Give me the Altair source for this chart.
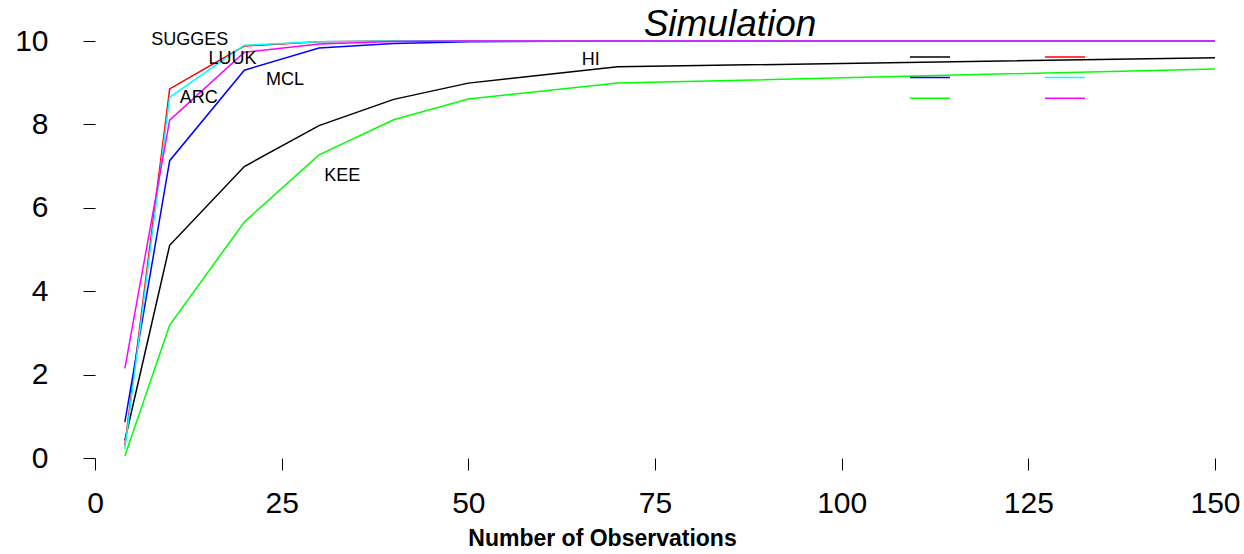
import altair as alt
import pandas as pd

# Data
obs = [4, 10, 20, 30, 40, 50, 70, 150]
series_names = ["HI", "SUGGES", "MCL", "LUUK", "KEE", "ARC"]
series_colors = ["#000000", "#FF0000", "#0000FF", "#00FFFF", "#00FF00", "#FF00FF"]
hi = [0.42, 5.10, 6.99, 7.97, 8.60, 8.99, 9.38, 9.60]
sugges = [0.30, 8.85, 9.88, 9.98, 10.0, 10.0, 10.0, 10.0]
mcl = [0.86, 7.13, 9.30, 9.83, 9.94, 9.98, 10.0, 10.0]
luuk = [0.22, 8.65, 9.90, 9.98, 10.0, 10.0, 10.0, 10.0]
kee = [0.05, 3.19, 5.66, 7.27, 8.11, 8.61, 8.99, 9.33]
arc = [2.15, 8.10, 9.73, 9.93, 9.99, 10.0, 10.0, 10.0]

# legend fills column by column: col 1 = HI, MCL, KEE ; col 2 = SUGGES, LUUK, ARC
legend_order = ["HI", "MCL", "KEE", "SUGGES", "LUUK", "ARC"]

label_text = ["SUGGES", "LUUK", "ARC", "MCL", "KEE", "HI"]
label_x = [12.7, 18.4, 13.9, 25.45, 33.1, 66.4]
label_y = [10.02, 9.58, 8.63, 9.07, 6.77, 9.55]

title_text = ["Simulation"]

x_ticks = [0, 25, 50, 75, 100, 125, 150]
y_ticks = [0, 2, 4, 6, 8, 10]

all_series = [hi, sugges, mcl, luuk, kee, arc]
rows = []
for i, (name, vals) in enumerate(zip(series_names, all_series)):
    for xv, yv in zip(obs, vals):
        rows.append({"obs": xv, "value": yv, "series": name, "order": i})
df = pd.DataFrame(rows)
labels_df = pd.DataFrame({"text": label_text, "x": label_x, "y": label_y})
title_df = pd.DataFrame({"text": title_text})

color_map = dict(zip(series_names, series_colors))
legend_colors = [color_map[n] for n in legend_order]

FONT = "Liberation Sans"

xscale = alt.Scale(domain=[0, 150], nice=False, zero=False)
yscale = alt.Scale(domain=[0, 10], nice=False)

lines = alt.Chart(df).mark_line(strokeWidth=1.5, clip=False).encode(
    x=alt.X("obs:Q", scale=xscale, axis=alt.Axis(
        values=x_ticks, title="Number of Observations", grid=False, domain=False,
        tickSize=12, tickColor="black", labelFontSize=30, labelFont=FONT,
        labelColor="black", labelPadding=18, labelFlush=False,
        titleFont=FONT, titleFontSize=23, titleFontWeight="bold", titleColor="black",
        titleX=507, titleY=87, titleBaseline="alphabetic", titleAnchor="middle")),
    y=alt.Y("value:Q", scale=yscale, axis=alt.Axis(
        values=y_ticks, title=None, grid=False, domain=False,
        tickSize=12, tickColor="black", labelFontSize=30, labelFont=FONT,
        labelColor="black", labelPadding=35, labelFlush=False)),
    color=alt.Color("series:N", scale=alt.Scale(domain=legend_order, range=legend_colors),
                    legend=alt.Legend(
                        title=None, orient="none", legendX=829, legendY=10,
                        columns=2, symbolType="M-4,0H4", symbolSize=100,
                        symbolStrokeWidth=1.5, labelExpr="''", labelFontSize=1,
                        labelOffset=0, columnPadding=89, rowPadding=11.6,
                        padding=0)),
    order=alt.Order("order:Q"),
    detail="series:N",
)

texts = alt.Chart(labels_df).mark_text(
    font=FONT, fontSize=18, color="black", align="center", baseline="middle"
).encode(x=alt.X("x:Q", scale=xscale), y=alt.Y("y:Q", scale=yscale), text="text:N")

title_mark = alt.Chart(title_df).mark_text(
    font=FONT, fontSize=37, fontStyle="italic", color="black",
    align="center", baseline="alphabetic"
).encode(x=alt.value(635), y=alt.value(-5), text="text:N")

chart = alt.layer(lines, texts, title_mark).properties(
    width=1120, height=417,
    autosize=alt.AutoSizeParams(type="none"),
    padding={"left": 95, "top": 41, "right": 29, "bottom": 96},
    background="white",
).configure_view(strokeWidth=0)

chart.save("out.html", embed_options={"renderer": "svg", "actions": False})
